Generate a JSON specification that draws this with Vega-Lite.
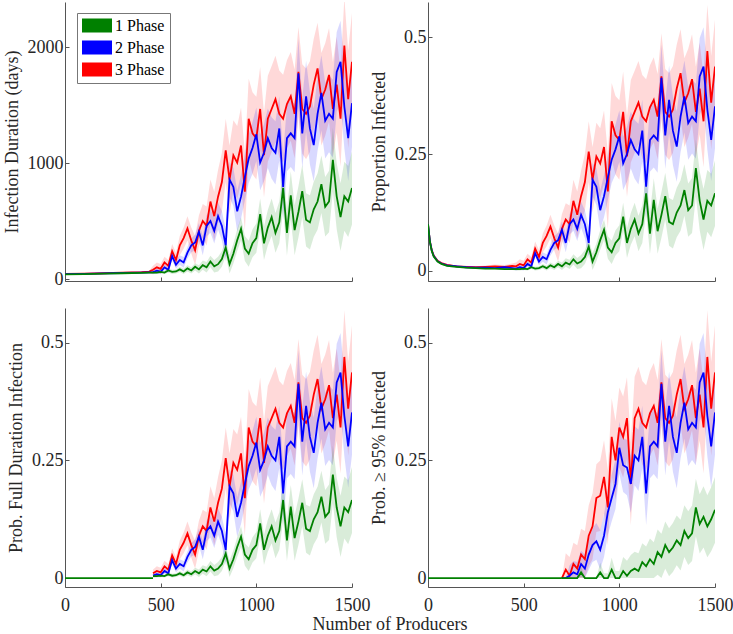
{
"$schema":"https://vega.github.io/schema/vega-lite/v6.json",
"padding":{"left":3,"top":2,"right":5,"bottom":0},
"datasets":{
"A":[
{"x":0,"g":42,"g1":38,"g2":46,"b":44,"b1":40,"b2":48,"r":46,"r1":42,"r2":50},
{"x":100,"g":45,"g1":41,"g2":49,"b":47,"b1":43,"b2":51,"r":49,"r1":44,"r2":54},
{"x":200,"g":48,"g1":44,"g2":52,"b":50,"b1":45,"b2":55,"r":52,"r1":47,"r2":57},
{"x":300,"g":52,"g1":47,"g2":57,"b":54,"b1":49,"b2":59,"r":57,"r1":51,"r2":63},
{"x":400,"g":55,"g1":50,"g2":60,"b":58,"b1":52,"b2":64,"r":62,"r1":55,"r2":69},
{"x":440,"g":57,"g1":52,"g2":62,"b":60,"b1":54,"b2":66,"r":66,"r1":58,"r2":74},
{"x":460,"g":58,"g1":45,"g2":72,"b":61,"b1":44,"b2":78,"r":82,"r1":48,"r2":116},
{"x":480,"g":58,"g1":45,"g2":72,"b":74,"b1":53,"b2":95,"r":103,"r1":61,"r2":145},
{"x":500,"g":63,"g1":49,"g2":76,"b":65,"b1":44,"b2":86,"r":90,"r1":48,"r2":132},
{"x":520,"g":58,"g1":45,"g2":72,"b":103,"b1":78,"b2":128,"r":145,"r1":95,"r2":195},
{"x":540,"g":76,"g1":58,"g2":94,"b":82,"b1":57,"b2":107,"r":116,"r1":65,"r2":166},
{"x":560,"g":63,"g1":45,"g2":81,"b":200,"b1":166,"b2":233,"r":242,"r1":179,"r2":305},
{"x":580,"g":67,"g1":49,"g2":85,"b":124,"b1":90,"b2":158,"r":166,"r1":103,"r2":229},
{"x":600,"g":85,"g1":63,"g2":108,"b":166,"b1":124,"b2":208,"r":292,"r1":208,"r2":376},
{"x":620,"g":67,"g1":45,"g2":90,"b":145,"b1":99,"b2":191,"r":355,"r1":263,"r2":447},
{"x":640,"g":94,"g1":67,"g2":121,"b":229,"b1":179,"b2":279,"r":439,"r1":334,"r2":544},
{"x":660,"g":76,"g1":49,"g2":103,"b":292,"b1":233,"b2":351,"r":334,"r1":221,"r2":447},
{"x":680,"g":108,"g1":76,"g2":139,"b":317,"b1":250,"b2":384,"r":250,"r1":124,"r2":376},
{"x":700,"g":85,"g1":49,"g2":121,"b":410,"b1":334,"b2":485,"r":418,"r1":284,"r2":552},
{"x":720,"g":121,"g1":81,"g2":162,"b":292,"b1":208,"b2":376,"r":502,"r1":355,"r2":649},
{"x":740,"g":103,"g1":58,"g2":148,"b":460,"b1":368,"b2":552,"r":460,"r1":292,"r2":628},
{"x":760,"g":153,"g1":103,"g2":202,"b":502,"b1":401,"b2":603,"r":670,"r1":481,"r2":859},
{"x":780,"g":112,"g1":58,"g2":166,"b":418,"b1":309,"b2":527,"r":544,"r1":334,"r2":754},
{"x":800,"g":130,"g1":67,"g2":193,"b":544,"b1":426,"b2":662,"r":712,"r1":481,"r2":943},
{"x":820,"g":175,"g1":108,"g2":243,"b":460,"b1":334,"b2":586,"r":838,"r1":586,"r2":1090},
{"x":840,"g":274,"g1":202,"g2":346,"b":292,"b1":153,"b2":431,"r":1111,"r1":838,"r2":1384},
{"x":860,"g":130,"g1":49,"g2":211,"b":859,"b1":708,"b2":1010,"r":859,"r1":565,"r2":1153},
{"x":880,"g":220,"g1":135,"g2":306,"b":796,"b1":632,"b2":960,"r":1069,"r1":767,"r2":1371},
{"x":900,"g":337,"g1":243,"g2":432,"b":586,"b1":410,"b2":762,"r":1006,"r1":691,"r2":1321},
{"x":920,"g":436,"g1":337,"g2":535,"b":712,"b1":523,"b2":901,"r":1153,"r1":825,"r2":1481},
{"x":940,"g":265,"g1":157,"g2":373,"b":880,"b1":678,"b2":1082,"r":754,"r1":418,"r2":1090},
{"x":960,"g":220,"g1":108,"g2":333,"b":1040,"b1":830,"b2":1250,"r":1384,"r1":1040,"r2":1728},
{"x":980,"g":310,"g1":189,"g2":432,"b":1132,"b1":909,"b2":1355,"r":1258,"r1":905,"r2":1611},
{"x":1000,"g":355,"g1":229,"g2":481,"b":1250,"b1":1019,"b2":1481,"r":1216,"r1":859,"r2":1573},
{"x":1020,"g":562,"g1":427,"g2":697,"b":1006,"b1":767,"b2":1245,"r":1468,"r1":1107,"r2":1829},
{"x":1040,"g":310,"g1":166,"g2":454,"b":1090,"b1":842,"b2":1338,"r":1069,"r1":704,"r2":1434},
{"x":1060,"g":445,"g1":292,"g2":598,"b":1216,"b1":960,"b2":1472,"r":1384,"r1":1014,"r2":1754},
{"x":1080,"g":535,"g1":373,"g2":697,"b":1132,"b1":867,"b2":1397,"r":1468,"r1":1098,"r2":1838},
{"x":1100,"g":400,"g1":229,"g2":571,"b":1090,"b1":817,"b2":1363,"r":1552,"r1":1178,"r2":1926},
{"x":1120,"g":490,"g1":310,"g2":670,"b":1300,"b1":1023,"b2":1577,"r":1426,"r1":1052,"r2":1800},
{"x":1140,"g":787,"g1":598,"g2":976,"b":796,"b1":515,"b2":1077,"r":1384,"r1":1006,"r2":1762},
{"x":1160,"g":400,"g1":202,"g2":598,"b":1216,"b1":930,"b2":1502,"r":1510,"r1":1132,"r2":1888},
{"x":1180,"g":724,"g1":517,"g2":931,"b":1258,"b1":968,"b2":1548,"r":1577,"r1":1195,"r2":1959},
{"x":1200,"g":423,"g1":207,"g2":639,"b":1216,"b1":922,"b2":1510,"r":1426,"r1":1044,"r2":1808},
{"x":1220,"g":580,"g1":360,"g2":801,"b":1775,"b1":1476,"b2":2073,"r":1787,"r1":1401,"r2":2174},
{"x":1240,"g":760,"g1":535,"g2":985,"b":1258,"b1":956,"b2":1560,"r":1468,"r1":1082,"r2":1854},
{"x":1260,"g":513,"g1":283,"g2":742,"b":1577,"b1":1271,"b2":1884,"r":1426,"r1":1035,"r2":1817},
{"x":1280,"g":490,"g1":256,"g2":724,"b":1300,"b1":989,"b2":1611,"r":1489,"r1":1098,"r2":1880},
{"x":1300,"g":603,"g1":364,"g2":841,"b":1157,"b1":842,"b2":1472,"r":1678,"r1":1283,"r2":2073},
{"x":1320,"g":670,"g1":427,"g2":913,"b":1426,"b1":1107,"b2":1745,"r":1817,"r1":1422,"r2":2211},
{"x":1340,"g":819,"g1":571,"g2":1066,"b":1607,"b1":1283,"b2":1930,"r":1552,"r1":1153,"r2":1951},
{"x":1360,"g":625,"g1":369,"g2":882,"b":1367,"b1":1040,"b2":1695,"r":1636,"r1":1237,"r2":2035},
{"x":1380,"g":670,"g1":405,"g2":936,"b":1426,"b1":1094,"b2":1758,"r":1762,"r1":1359,"r2":2165},
{"x":1400,"g":1030,"g1":756,"g2":1305,"b":1384,"b1":1048,"b2":1720,"r":1468,"r1":1061,"r2":1875},
{"x":1420,"g":715,"g1":432,"g2":999,"b":1787,"b1":1443,"b2":2132,"r":1678,"r1":1266,"r2":2090},
{"x":1440,"g":535,"g1":243,"g2":828,"b":1875,"b1":1523,"b2":2228,"r":1384,"r1":972,"r2":1796},
{"x":1460,"g":715,"g1":418,"g2":1012,"b":1489,"b1":1128,"b2":1850,"r":2014,"r1":1598,"r2":2430},
{"x":1480,"g":670,"g1":364,"g2":976,"b":1216,"b1":846,"b2":1586,"r":1552,"r1":1132,"r2":1972},
{"x":1500,"g":787,"g1":472,"g2":1102,"b":1518,"b1":1140,"b2":1896,"r":1875,"r1":1455,"r2":2295}
],
"P":[
{"x":0,"g":0.1,"g1":0.097,"g2":0.103,"b":0.1,"b1":0.097,"b2":0.103,"r":0.1,"r1":0.097,"r2":0.103},
{"x":10,"g":0.062,"g1":0.059,"g2":0.065,"b":0.063,"b1":0.06,"b2":0.066,"r":0.063,"r1":0.06,"r2":0.066},
{"x":20,"g":0.042,"g1":0.04,"g2":0.044,"b":0.043,"b1":0.041,"b2":0.045,"r":0.044,"r1":0.042,"r2":0.046},
{"x":30,"g":0.031,"g1":0.029,"g2":0.033,"b":0.032,"b1":0.03,"b2":0.034,"r":0.033,"r1":0.031,"r2":0.035},
{"x":50,"g":0.02,"g1":0.018,"g2":0.022,"b":0.021,"b1":0.019,"b2":0.023,"r":0.022,"r1":0.02,"r2":0.024},
{"x":70,"g":0.015,"g1":0.013,"g2":0.017,"b":0.016,"b1":0.014,"b2":0.018,"r":0.017,"r1":0.015,"r2":0.019},
{"x":100,"g":0.011,"g1":0.009,"g2":0.013,"b":0.012,"b1":0.01,"b2":0.014,"r":0.013,"r1":0.011,"r2":0.015},
{"x":150,"g":0.009,"g1":0.007,"g2":0.011,"b":0.01,"b1":0.008,"b2":0.012,"r":0.01,"r1":0.008,"r2":0.012},
{"x":200,"g":0.007,"g1":0.005,"g2":0.009,"b":0.008,"b1":0.006,"b2":0.01,"r":0.009,"r1":0.007,"r2":0.011},
{"x":250,"g":0.006,"g1":0.004,"g2":0.008,"b":0.007,"b1":0.005,"b2":0.009,"r":0.008,"r1":0.006,"r2":0.01},
{"x":300,"g":0.005,"g1":0.003,"g2":0.007,"b":0.007,"b1":0.005,"b2":0.009,"r":0.009,"r1":0.006,"r2":0.012},
{"x":350,"g":0.005,"g1":0.003,"g2":0.007,"b":0.006,"b1":0.004,"b2":0.008,"r":0.01,"r1":0.006,"r2":0.014},
{"x":400,"g":0.004,"g1":0.002,"g2":0.006,"b":0.008,"b1":0.005,"b2":0.011,"r":0.009,"r1":0.005,"r2":0.013},
{"x":440,"g":0.004,"g1":0.002,"g2":0.006,"b":0.006,"b1":0.003,"b2":0.009,"r":0.011,"r1":0.006,"r2":0.016},
{"x":460,"g":0.004,"g1":0.001,"g2":0.007,"b":0.005,"b1":0.001,"b2":0.009,"r":0.01,"r1":0.002,"r2":0.018},
{"x":480,"g":0.004,"g1":0.001,"g2":0.007,"b":0.008,"b1":0.003,"b2":0.013,"r":0.015,"r1":0.005,"r2":0.025},
{"x":500,"g":0.005,"g1":0.002,"g2":0.008,"b":0.006,"b1":0.001,"b2":0.011,"r":0.012,"r1":0.002,"r2":0.022},
{"x":520,"g":0.004,"g1":0.001,"g2":0.007,"b":0.015,"b1":0.009,"b2":0.021,"r":0.025,"r1":0.013,"r2":0.037},
{"x":540,"g":0.008,"g1":0.004,"g2":0.012,"b":0.01,"b1":0.004,"b2":0.016,"r":0.018,"r1":0.006,"r2":0.03},
{"x":560,"g":0.005,"g1":0.001,"g2":0.009,"b":0.038,"b1":0.03,"b2":0.046,"r":0.048,"r1":0.033,"r2":0.063},
{"x":580,"g":0.006,"g1":0.002,"g2":0.01,"b":0.02,"b1":0.012,"b2":0.028,"r":0.03,"r1":0.015,"r2":0.045},
{"x":600,"g":0.01,"g1":0.005,"g2":0.015,"b":0.03,"b1":0.02,"b2":0.04,"r":0.06,"r1":0.04,"r2":0.08},
{"x":620,"g":0.006,"g1":0.001,"g2":0.011,"b":0.025,"b1":0.014,"b2":0.036,"r":0.075,"r1":0.053,"r2":0.097},
{"x":640,"g":0.012,"g1":0.006,"g2":0.018,"b":0.045,"b1":0.033,"b2":0.057,"r":0.095,"r1":0.07,"r2":0.12},
{"x":660,"g":0.008,"g1":0.002,"g2":0.014,"b":0.06,"b1":0.046,"b2":0.074,"r":0.07,"r1":0.043,"r2":0.097},
{"x":680,"g":0.015,"g1":0.008,"g2":0.022,"b":0.066,"b1":0.05,"b2":0.082,"r":0.05,"r1":0.02,"r2":0.08},
{"x":700,"g":0.01,"g1":0.002,"g2":0.018,"b":0.088,"b1":0.07,"b2":0.106,"r":0.09,"r1":0.058,"r2":0.122},
{"x":720,"g":0.018,"g1":0.009,"g2":0.027,"b":0.06,"b1":0.04,"b2":0.08,"r":0.11,"r1":0.075,"r2":0.145},
{"x":740,"g":0.014,"g1":0.004,"g2":0.024,"b":0.1,"b1":0.078,"b2":0.122,"r":0.1,"r1":0.06,"r2":0.14},
{"x":760,"g":0.025,"g1":0.014,"g2":0.036,"b":0.11,"b1":0.086,"b2":0.134,"r":0.15,"r1":0.105,"r2":0.195},
{"x":780,"g":0.016,"g1":0.004,"g2":0.028,"b":0.09,"b1":0.064,"b2":0.116,"r":0.12,"r1":0.07,"r2":0.17},
{"x":800,"g":0.02,"g1":0.006,"g2":0.034,"b":0.12,"b1":0.092,"b2":0.148,"r":0.16,"r1":0.105,"r2":0.215},
{"x":820,"g":0.03,"g1":0.015,"g2":0.045,"b":0.1,"b1":0.07,"b2":0.13,"r":0.19,"r1":0.13,"r2":0.25},
{"x":840,"g":0.052,"g1":0.036,"g2":0.068,"b":0.06,"b1":0.027,"b2":0.093,"r":0.255,"r1":0.19,"r2":0.32},
{"x":860,"g":0.02,"g1":0.002,"g2":0.038,"b":0.195,"b1":0.159,"b2":0.231,"r":0.195,"r1":0.125,"r2":0.265},
{"x":880,"g":0.04,"g1":0.021,"g2":0.059,"b":0.18,"b1":0.141,"b2":0.219,"r":0.245,"r1":0.173,"r2":0.317},
{"x":900,"g":0.066,"g1":0.045,"g2":0.087,"b":0.13,"b1":0.088,"b2":0.172,"r":0.23,"r1":0.155,"r2":0.305},
{"x":920,"g":0.088,"g1":0.066,"g2":0.11,"b":0.16,"b1":0.115,"b2":0.205,"r":0.265,"r1":0.187,"r2":0.343},
{"x":940,"g":0.05,"g1":0.026,"g2":0.074,"b":0.2,"b1":0.152,"b2":0.248,"r":0.17,"r1":0.09,"r2":0.25},
{"x":960,"g":0.04,"g1":0.015,"g2":0.065,"b":0.238,"b1":0.188,"b2":0.288,"r":0.32,"r1":0.238,"r2":0.402},
{"x":980,"g":0.06,"g1":0.033,"g2":0.087,"b":0.26,"b1":0.207,"b2":0.313,"r":0.29,"r1":0.206,"r2":0.374},
{"x":1000,"g":0.07,"g1":0.042,"g2":0.098,"b":0.288,"b1":0.233,"b2":0.343,"r":0.28,"r1":0.195,"r2":0.365},
{"x":1020,"g":0.116,"g1":0.086,"g2":0.146,"b":0.23,"b1":0.173,"b2":0.287,"r":0.34,"r1":0.254,"r2":0.426},
{"x":1040,"g":0.06,"g1":0.028,"g2":0.092,"b":0.25,"b1":0.191,"b2":0.309,"r":0.245,"r1":0.158,"r2":0.332},
{"x":1060,"g":0.09,"g1":0.056,"g2":0.124,"b":0.28,"b1":0.219,"b2":0.341,"r":0.32,"r1":0.232,"r2":0.408},
{"x":1080,"g":0.11,"g1":0.074,"g2":0.146,"b":0.26,"b1":0.197,"b2":0.323,"r":0.34,"r1":0.252,"r2":0.428},
{"x":1100,"g":0.08,"g1":0.042,"g2":0.118,"b":0.25,"b1":0.185,"b2":0.315,"r":0.36,"r1":0.271,"r2":0.449},
{"x":1120,"g":0.1,"g1":0.06,"g2":0.14,"b":0.3,"b1":0.234,"b2":0.366,"r":0.33,"r1":0.241,"r2":0.419},
{"x":1140,"g":0.166,"g1":0.124,"g2":0.208,"b":0.18,"b1":0.113,"b2":0.247,"r":0.32,"r1":0.23,"r2":0.41},
{"x":1160,"g":0.08,"g1":0.036,"g2":0.124,"b":0.28,"b1":0.212,"b2":0.348,"r":0.35,"r1":0.26,"r2":0.44},
{"x":1180,"g":0.152,"g1":0.106,"g2":0.198,"b":0.29,"b1":0.221,"b2":0.359,"r":0.366,"r1":0.275,"r2":0.457},
{"x":1200,"g":0.085,"g1":0.037,"g2":0.133,"b":0.28,"b1":0.21,"b2":0.35,"r":0.33,"r1":0.239,"r2":0.421},
{"x":1220,"g":0.12,"g1":0.071,"g2":0.169,"b":0.413,"b1":0.342,"b2":0.484,"r":0.416,"r1":0.324,"r2":0.508},
{"x":1240,"g":0.16,"g1":0.11,"g2":0.21,"b":0.29,"b1":0.218,"b2":0.362,"r":0.34,"r1":0.248,"r2":0.432},
{"x":1260,"g":0.105,"g1":0.054,"g2":0.156,"b":0.366,"b1":0.293,"b2":0.439,"r":0.33,"r1":0.237,"r2":0.423},
{"x":1280,"g":0.1,"g1":0.048,"g2":0.152,"b":0.3,"b1":0.226,"b2":0.374,"r":0.345,"r1":0.252,"r2":0.438},
{"x":1300,"g":0.125,"g1":0.072,"g2":0.178,"b":0.266,"b1":0.191,"b2":0.341,"r":0.39,"r1":0.296,"r2":0.484},
{"x":1320,"g":0.14,"g1":0.086,"g2":0.194,"b":0.33,"b1":0.254,"b2":0.406,"r":0.423,"r1":0.329,"r2":0.517},
{"x":1340,"g":0.173,"g1":0.118,"g2":0.228,"b":0.373,"b1":0.296,"b2":0.45,"r":0.36,"r1":0.265,"r2":0.455},
{"x":1360,"g":0.13,"g1":0.073,"g2":0.187,"b":0.316,"b1":0.238,"b2":0.394,"r":0.38,"r1":0.285,"r2":0.475},
{"x":1380,"g":0.14,"g1":0.081,"g2":0.199,"b":0.33,"b1":0.251,"b2":0.409,"r":0.41,"r1":0.314,"r2":0.506},
{"x":1400,"g":0.22,"g1":0.159,"g2":0.281,"b":0.32,"b1":0.24,"b2":0.4,"r":0.34,"r1":0.243,"r2":0.437},
{"x":1420,"g":0.15,"g1":0.087,"g2":0.213,"b":0.416,"b1":0.334,"b2":0.498,"r":0.39,"r1":0.292,"r2":0.488},
{"x":1440,"g":0.11,"g1":0.045,"g2":0.175,"b":0.437,"b1":0.353,"b2":0.521,"r":0.32,"r1":0.222,"r2":0.418},
{"x":1460,"g":0.15,"g1":0.084,"g2":0.216,"b":0.345,"b1":0.259,"b2":0.431,"r":0.47,"r1":0.371,"r2":0.569},
{"x":1480,"g":0.14,"g1":0.072,"g2":0.208,"b":0.28,"b1":0.192,"b2":0.368,"r":0.36,"r1":0.26,"r2":0.46},
{"x":1500,"g":0.166,"g1":0.096,"g2":0.236,"b":0.352,"b1":0.262,"b2":0.442,"r":0.437,"r1":0.337,"r2":0.537}
],
"D":[
{"x":700,"g":0,"g1":0,"g2":0,"b":0,"b1":0,"b2":0,"r":0,"r1":0,"r2":0},
{"x":720,"g":0,"g1":0,"g2":0,"b":0,"b1":0,"b2":0,"r":0.018,"r1":0,"r2":0.053},
{"x":740,"g":0,"g1":0,"g2":0,"b":0.005,"b1":0,"b2":0.027,"r":0.005,"r1":0,"r2":0.045},
{"x":760,"g":0,"g1":0,"g2":0,"b":0.012,"b1":0,"b2":0.036,"r":0.03,"r1":0,"r2":0.075},
{"x":780,"g":0,"g1":0,"g2":0,"b":0.008,"b1":0,"b2":0.034,"r":0.02,"r1":0,"r2":0.07},
{"x":800,"g":0.012,"g1":0,"g2":0.026,"b":0.03,"b1":0.002,"b2":0.058,"r":0.05,"r1":0,"r2":0.105},
{"x":820,"g":0,"g1":0,"g2":0,"b":0.02,"b1":0,"b2":0.05,"r":0.04,"r1":0,"r2":0.1},
{"x":840,"g":0,"g1":0,"g2":0,"b":0.05,"b1":0.017,"b2":0.083,"r":0.09,"r1":0.025,"r2":0.155},
{"x":860,"g":0,"g1":0,"g2":0,"b":0.07,"b1":0.034,"b2":0.106,"r":0.11,"r1":0.04,"r2":0.18},
{"x":880,"g":0,"g1":0,"g2":0,"b":0.078,"b1":0.039,"b2":0.117,"r":0.17,"r1":0.098,"r2":0.242},
{"x":900,"g":0.012,"g1":0,"g2":0.033,"b":0.06,"b1":0.018,"b2":0.102,"r":0.175,"r1":0.1,"r2":0.25},
{"x":920,"g":0,"g1":0,"g2":0.01,"b":0.09,"b1":0.045,"b2":0.135,"r":0.215,"r1":0.137,"r2":0.293},
{"x":940,"g":0,"g1":0,"g2":0.01,"b":0.14,"b1":0.092,"b2":0.188,"r":0.15,"r1":0.07,"r2":0.23},
{"x":960,"g":0.018,"g1":0,"g2":0.043,"b":0.17,"b1":0.12,"b2":0.22,"r":0.3,"r1":0.218,"r2":0.382},
{"x":980,"g":0,"g1":0,"g2":0.015,"b":0.2,"b1":0.147,"b2":0.253,"r":0.25,"r1":0.166,"r2":0.334},
{"x":1000,"g":0,"g1":0,"g2":0.015,"b":0.277,"b1":0.222,"b2":0.332,"r":0.32,"r1":0.235,"r2":0.405},
{"x":1020,"g":0.015,"g1":0,"g2":0.045,"b":0.24,"b1":0.183,"b2":0.297,"r":0.3,"r1":0.214,"r2":0.386},
{"x":1040,"g":0.005,"g1":0,"g2":0.037,"b":0.235,"b1":0.176,"b2":0.294,"r":0.34,"r1":0.253,"r2":0.427},
{"x":1060,"g":0.015,"g1":0,"g2":0.049,"b":0.2,"b1":0.139,"b2":0.261,"r":0.2,"r1":0.112,"r2":0.288},
{"x":1080,"g":0.02,"g1":0,"g2":0.056,"b":0.26,"b1":0.197,"b2":0.323,"r":0.34,"r1":0.252,"r2":0.428},
{"x":1100,"g":0.015,"g1":0,"g2":0.053,"b":0.25,"b1":0.185,"b2":0.315,"r":0.36,"r1":0.271,"r2":0.449},
{"x":1120,"g":0.034,"g1":0,"g2":0.074,"b":0.3,"b1":0.234,"b2":0.366,"r":0.33,"r1":0.241,"r2":0.419},
{"x":1140,"g":0.025,"g1":0,"g2":0.067,"b":0.18,"b1":0.113,"b2":0.247,"r":0.32,"r1":0.23,"r2":0.41},
{"x":1160,"g":0.04,"g1":0,"g2":0.084,"b":0.28,"b1":0.212,"b2":0.348,"r":0.35,"r1":0.26,"r2":0.44},
{"x":1180,"g":0.03,"g1":0,"g2":0.076,"b":0.29,"b1":0.221,"b2":0.359,"r":0.366,"r1":0.275,"r2":0.457},
{"x":1200,"g":0.055,"g1":0.007,"g2":0.103,"b":0.28,"b1":0.21,"b2":0.35,"r":0.33,"r1":0.239,"r2":0.421},
{"x":1220,"g":0.045,"g1":0,"g2":0.094,"b":0.413,"b1":0.342,"b2":0.484,"r":0.416,"r1":0.324,"r2":0.508},
{"x":1240,"g":0.07,"g1":0.02,"g2":0.12,"b":0.29,"b1":0.218,"b2":0.362,"r":0.34,"r1":0.248,"r2":0.432},
{"x":1260,"g":0.055,"g1":0.004,"g2":0.106,"b":0.366,"b1":0.293,"b2":0.439,"r":0.33,"r1":0.237,"r2":0.423},
{"x":1280,"g":0.065,"g1":0.013,"g2":0.117,"b":0.3,"b1":0.226,"b2":0.374,"r":0.345,"r1":0.252,"r2":0.438},
{"x":1300,"g":0.08,"g1":0.027,"g2":0.133,"b":0.266,"b1":0.191,"b2":0.341,"r":0.39,"r1":0.296,"r2":0.484},
{"x":1320,"g":0.07,"g1":0.016,"g2":0.124,"b":0.33,"b1":0.254,"b2":0.406,"r":0.423,"r1":0.329,"r2":0.517},
{"x":1340,"g":0.1,"g1":0.045,"g2":0.155,"b":0.373,"b1":0.296,"b2":0.45,"r":0.36,"r1":0.265,"r2":0.455},
{"x":1360,"g":0.085,"g1":0.028,"g2":0.142,"b":0.316,"b1":0.238,"b2":0.394,"r":0.38,"r1":0.285,"r2":0.475},
{"x":1380,"g":0.095,"g1":0.036,"g2":0.154,"b":0.33,"b1":0.251,"b2":0.409,"r":0.41,"r1":0.314,"r2":0.506},
{"x":1400,"g":0.15,"g1":0.089,"g2":0.211,"b":0.32,"b1":0.24,"b2":0.4,"r":0.34,"r1":0.243,"r2":0.437},
{"x":1420,"g":0.115,"g1":0.052,"g2":0.178,"b":0.416,"b1":0.334,"b2":0.498,"r":0.39,"r1":0.292,"r2":0.488},
{"x":1440,"g":0.13,"g1":0.065,"g2":0.195,"b":0.437,"b1":0.353,"b2":0.521,"r":0.32,"r1":0.222,"r2":0.418},
{"x":1460,"g":0.11,"g1":0.044,"g2":0.176,"b":0.345,"b1":0.259,"b2":0.431,"r":0.47,"r1":0.371,"r2":0.569},
{"x":1480,"g":0.125,"g1":0.057,"g2":0.193,"b":0.28,"b1":0.192,"b2":0.368,"r":0.36,"r1":0.26,"r2":0.46},
{"x":1500,"g":0.145,"g1":0.075,"g2":0.215,"b":0.352,"b1":0.262,"b2":0.442,"r":0.437,"r1":0.337,"r2":0.537}
],
"ZB":[{"x":0,"v":0},{"x":460,"v":0}],
"ZD":[{"x":0,"v":0},{"x":700,"v":0}]
},
"title":{"text":"Number of Producers","orient":"bottom","anchor":"middle","frame":"group","dx":325,"font":"Liberation Serif","fontSize":18,"fontWeight":"normal","color":"#262626","offset":2},
"columns":2,
"spacing":{"row":27,"column":76},
"bounds":"flush",
"resolve":{"scale":{"fill":"independent","stroke":"independent"}},
"concat":[
{
"width":287,"height":279,
"data":{"name":"A"},
"encoding":{"x":{"field":"x","type":"quantitative","scale":{"domain":[0,1500],"nice":false,"zero":false},"axis":{"values":[0,500,1000,1500],"labels":false,"title":null}}},
"layer":[
{"mark":{"type":"area","fillOpacity":0.15,"clip":true},"encoding":{"y":{"field":"r1","type":"quantitative","scale":{"domain":[-15,2390],"nice":false,"zero":false},"axis":{"values":[0,1000,2000],"format":"d","title":"Infection Duration (days)"}},"y2":{"field":"r2"},"fill":{"datum":"3 Phase","scale":{"domain":["1 Phase","2 Phase","3 Phase"],"range":["#008000","#0000ff","#ff0000"]},"legend":{"title":null,"orient":"none","legendX":12,"legendY":11,"symbolType":"M-1,-0.47H1V0.47H-1Z","symbolSize":900,"symbolOpacity":1,"symbolStrokeWidth":0,"clipHeight":15,"labelOffset":3,"rowPadding":5,"padding":5,"strokeColor":"#777","fillColor":"#fff","labelFont":"Liberation Serif","labelFontSize":16,"labelColor":"#000"}}}},
{"mark":{"type":"area","fillOpacity":0.15,"clip":true},"encoding":{"y":{"field":"b1","type":"quantitative","scale":{"domain":[-15,2390],"nice":false,"zero":false}},"y2":{"field":"b2"},"fill":{"datum":"2 Phase","scale":{"domain":["1 Phase","2 Phase","3 Phase"],"range":["#008000","#0000ff","#ff0000"]}}}},
{"mark":{"type":"area","fillOpacity":0.15,"clip":true},"encoding":{"y":{"field":"g1","type":"quantitative","scale":{"domain":[-15,2390],"nice":false,"zero":false}},"y2":{"field":"g2"},"fill":{"datum":"1 Phase","scale":{"domain":["1 Phase","2 Phase","3 Phase"],"range":["#008000","#0000ff","#ff0000"]}}}},
{"mark":{"type":"line","strokeWidth":1.8,"clip":true},"encoding":{"y":{"field":"r","type":"quantitative","scale":{"domain":[-15,2390],"nice":false,"zero":false}},"stroke":{"datum":"3 Phase","scale":{"domain":["1 Phase","2 Phase","3 Phase"],"range":["#008000","#0000ff","#ff0000"]},"legend":null}}},
{"mark":{"type":"line","strokeWidth":1.8,"clip":true},"encoding":{"y":{"field":"b","type":"quantitative","scale":{"domain":[-15,2390],"nice":false,"zero":false}},"stroke":{"datum":"2 Phase","scale":{"domain":["1 Phase","2 Phase","3 Phase"],"range":["#008000","#0000ff","#ff0000"]},"legend":null}}},
{"mark":{"type":"line","strokeWidth":1.8,"clip":true},"encoding":{"y":{"field":"g","type":"quantitative","scale":{"domain":[-15,2390],"nice":false,"zero":false}},"stroke":{"datum":"1 Phase","scale":{"domain":["1 Phase","2 Phase","3 Phase"],"range":["#008000","#0000ff","#ff0000"]},"legend":null}}}
]
},
{
"width":287,"height":279,
"data":{"name":"P"},
"encoding":{"x":{"field":"x","type":"quantitative","scale":{"domain":[0,1500],"nice":false,"zero":false},"axis":{"values":[0,500,1000,1500],"labels":false,"title":null}}},
"layer":[
{"mark":{"type":"area","fillOpacity":0.15,"clip":true},"encoding":{"y":{"field":"r1","type":"quantitative","scale":{"domain":[-0.0214,0.575],"nice":false,"zero":false},"axis":{"values":[0,0.25,0.5],"format":".2~f","title":"Proportion Infected"}},"y2":{"field":"r2"},"fill":{"datum":"3 Phase","scale":{"domain":["1 Phase","2 Phase","3 Phase"],"range":["#008000","#0000ff","#ff0000"]},"legend":null}}},
{"mark":{"type":"area","fillOpacity":0.15,"clip":true},"encoding":{"y":{"field":"b1","type":"quantitative","scale":{"domain":[-0.0214,0.575],"nice":false,"zero":false}},"y2":{"field":"b2"},"fill":{"datum":"2 Phase","scale":{"domain":["1 Phase","2 Phase","3 Phase"],"range":["#008000","#0000ff","#ff0000"]},"legend":null}}},
{"mark":{"type":"area","fillOpacity":0.15,"clip":true},"encoding":{"y":{"field":"g1","type":"quantitative","scale":{"domain":[-0.0214,0.575],"nice":false,"zero":false}},"y2":{"field":"g2"},"fill":{"datum":"1 Phase","scale":{"domain":["1 Phase","2 Phase","3 Phase"],"range":["#008000","#0000ff","#ff0000"]},"legend":null}}},
{"mark":{"type":"line","strokeWidth":1.8,"clip":true},"encoding":{"y":{"field":"r","type":"quantitative","scale":{"domain":[-0.0214,0.575],"nice":false,"zero":false}},"stroke":{"datum":"3 Phase","scale":{"domain":["1 Phase","2 Phase","3 Phase"],"range":["#008000","#0000ff","#ff0000"]},"legend":null}}},
{"mark":{"type":"line","strokeWidth":1.8,"clip":true},"encoding":{"y":{"field":"b","type":"quantitative","scale":{"domain":[-0.0214,0.575],"nice":false,"zero":false}},"stroke":{"datum":"2 Phase","scale":{"domain":["1 Phase","2 Phase","3 Phase"],"range":["#008000","#0000ff","#ff0000"]},"legend":null}}},
{"mark":{"type":"line","strokeWidth":1.8,"clip":true},"encoding":{"y":{"field":"g","type":"quantitative","scale":{"domain":[-0.0214,0.575],"nice":false,"zero":false}},"stroke":{"datum":"1 Phase","scale":{"domain":["1 Phase","2 Phase","3 Phase"],"range":["#008000","#0000ff","#ff0000"]},"legend":null}}}
]
},
{
"width":287,"height":279,
"encoding":{"x":{"field":"x","type":"quantitative","scale":{"domain":[0,1500],"nice":false,"zero":false},"axis":{"values":[0,500,1000,1500],"format":"d","title":null}}},
"layer":[
{
"data":{"name":"P"},
"transform":[{"filter":"datum.x >= 460"}],
"layer":[
{"mark":{"type":"area","fillOpacity":0.15,"clip":true},"encoding":{"y":{"field":"r1","type":"quantitative","scale":{"domain":[-0.019,0.574],"nice":false,"zero":false},"axis":{"values":[0,0.25,0.5],"format":".2~f","title":"Prob. Full Duration Infection"}},"y2":{"field":"r2"},"fill":{"datum":"3 Phase","scale":{"domain":["1 Phase","2 Phase","3 Phase"],"range":["#008000","#0000ff","#ff0000"]},"legend":null}}},
{"mark":{"type":"area","fillOpacity":0.15,"clip":true},"encoding":{"y":{"field":"b1","type":"quantitative","scale":{"domain":[-0.019,0.574],"nice":false,"zero":false}},"y2":{"field":"b2"},"fill":{"datum":"2 Phase","scale":{"domain":["1 Phase","2 Phase","3 Phase"],"range":["#008000","#0000ff","#ff0000"]},"legend":null}}},
{"mark":{"type":"area","fillOpacity":0.15,"clip":true},"encoding":{"y":{"field":"g1","type":"quantitative","scale":{"domain":[-0.019,0.574],"nice":false,"zero":false}},"y2":{"field":"g2"},"fill":{"datum":"1 Phase","scale":{"domain":["1 Phase","2 Phase","3 Phase"],"range":["#008000","#0000ff","#ff0000"]},"legend":null}}},
{"mark":{"type":"line","strokeWidth":1.8,"clip":true},"encoding":{"y":{"field":"r","type":"quantitative","scale":{"domain":[-0.019,0.574],"nice":false,"zero":false}},"stroke":{"datum":"3 Phase","scale":{"domain":["1 Phase","2 Phase","3 Phase"],"range":["#008000","#0000ff","#ff0000"]},"legend":null}}},
{"mark":{"type":"line","strokeWidth":1.8,"clip":true},"encoding":{"y":{"field":"b","type":"quantitative","scale":{"domain":[-0.019,0.574],"nice":false,"zero":false}},"stroke":{"datum":"2 Phase","scale":{"domain":["1 Phase","2 Phase","3 Phase"],"range":["#008000","#0000ff","#ff0000"]},"legend":null}}},
{"mark":{"type":"line","strokeWidth":1.8,"clip":true},"encoding":{"y":{"field":"g","type":"quantitative","scale":{"domain":[-0.019,0.574],"nice":false,"zero":false}},"stroke":{"datum":"1 Phase","scale":{"domain":["1 Phase","2 Phase","3 Phase"],"range":["#008000","#0000ff","#ff0000"]},"legend":null}}}
]
},
{"data":{"name":"ZB"},"mark":{"type":"line","strokeWidth":1.8,"clip":true},"encoding":{"y":{"field":"v","type":"quantitative","scale":{"domain":[-0.019,0.574],"nice":false,"zero":false}},"stroke":{"datum":"1 Phase","scale":{"domain":["1 Phase","2 Phase","3 Phase"],"range":["#008000","#0000ff","#ff0000"]},"legend":null}}}
]
},
{
"width":287,"height":279,
"encoding":{"x":{"field":"x","type":"quantitative","scale":{"domain":[0,1500],"nice":false,"zero":false},"axis":{"values":[0,500,1000,1500],"format":"d","title":null}}},
"layer":[
{
"data":{"name":"D"},
"layer":[
{"mark":{"type":"area","fillOpacity":0.15,"clip":true},"encoding":{"y":{"field":"r1","type":"quantitative","scale":{"domain":[-0.019,0.574],"nice":false,"zero":false},"axis":{"values":[0,0.25,0.5],"format":".2~f","title":"Prob. ≥ 95% Infected"}},"y2":{"field":"r2"},"fill":{"datum":"3 Phase","scale":{"domain":["1 Phase","2 Phase","3 Phase"],"range":["#008000","#0000ff","#ff0000"]},"legend":null}}},
{"mark":{"type":"area","fillOpacity":0.15,"clip":true},"encoding":{"y":{"field":"b1","type":"quantitative","scale":{"domain":[-0.019,0.574],"nice":false,"zero":false}},"y2":{"field":"b2"},"fill":{"datum":"2 Phase","scale":{"domain":["1 Phase","2 Phase","3 Phase"],"range":["#008000","#0000ff","#ff0000"]},"legend":null}}},
{"mark":{"type":"area","fillOpacity":0.15,"clip":true},"encoding":{"y":{"field":"g1","type":"quantitative","scale":{"domain":[-0.019,0.574],"nice":false,"zero":false}},"y2":{"field":"g2"},"fill":{"datum":"1 Phase","scale":{"domain":["1 Phase","2 Phase","3 Phase"],"range":["#008000","#0000ff","#ff0000"]},"legend":null}}},
{"mark":{"type":"line","strokeWidth":1.8,"clip":true},"encoding":{"y":{"field":"r","type":"quantitative","scale":{"domain":[-0.019,0.574],"nice":false,"zero":false}},"stroke":{"datum":"3 Phase","scale":{"domain":["1 Phase","2 Phase","3 Phase"],"range":["#008000","#0000ff","#ff0000"]},"legend":null}}},
{"mark":{"type":"line","strokeWidth":1.8,"clip":true},"encoding":{"y":{"field":"b","type":"quantitative","scale":{"domain":[-0.019,0.574],"nice":false,"zero":false}},"stroke":{"datum":"2 Phase","scale":{"domain":["1 Phase","2 Phase","3 Phase"],"range":["#008000","#0000ff","#ff0000"]},"legend":null}}},
{"mark":{"type":"line","strokeWidth":1.8,"clip":true},"encoding":{"y":{"field":"g","type":"quantitative","scale":{"domain":[-0.019,0.574],"nice":false,"zero":false}},"stroke":{"datum":"1 Phase","scale":{"domain":["1 Phase","2 Phase","3 Phase"],"range":["#008000","#0000ff","#ff0000"]},"legend":null}}}
]
},
{"data":{"name":"ZD"},"mark":{"type":"line","strokeWidth":1.8,"clip":true},"encoding":{"y":{"field":"v","type":"quantitative","scale":{"domain":[-0.019,0.574],"nice":false,"zero":false}},"stroke":{"datum":"1 Phase","scale":{"domain":["1 Phase","2 Phase","3 Phase"],"range":["#008000","#0000ff","#ff0000"]},"legend":null}}}
]
}
],
"config":{
"view":{"stroke":null},
"font":"Liberation Serif",
"axis":{"grid":false,"domainColor":"#555","domainWidth":1,"tickColor":"#555","tickSize":-4,"tickWidth":1,"labelFont":"Liberation Serif","labelFontSize":18,"labelColor":"#262626","labelFlush":false,"titleFont":"Liberation Serif","titleFontSize":18,"titleFontWeight":"normal","titleColor":"#262626"},
"axisX":{"labelPadding":13},
"axisY":{"labelPadding":6,"titlePadding":6}
}
}
